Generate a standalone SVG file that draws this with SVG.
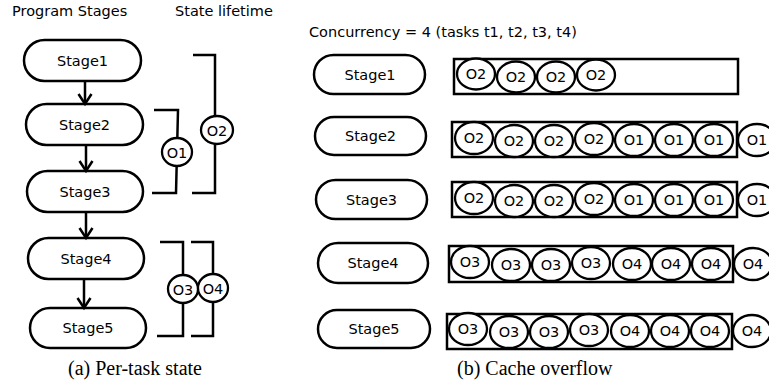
<svg xmlns="http://www.w3.org/2000/svg" width="769" height="389" viewBox="0 0 769 389">
  <style>
    .pill { fill: #fff; stroke: #000; stroke-width: 2.5; }
    .box { fill: none; stroke: #000; stroke-width: 2.5; }
    .obj { fill: #fff; stroke: #000; stroke-width: 2.3; }
    .brk { fill: none; stroke: #000; stroke-width: 2.5; }
    .edge { fill: none; stroke: #000; stroke-width: 2.5; }
    .lbl { font-family: "DejaVu Sans", sans-serif; font-size: 14.5px; fill: #000; }
    .mid { text-anchor: middle; }
    .cap { font-family: "Liberation Serif", "Times New Roman", serif; font-size: 20px; fill: #000; }
  </style>
  <defs>
    <marker id="vee" markerUnits="userSpaceOnUse" markerWidth="16" markerHeight="16" viewBox="0 0 16 16" refX="13" refY="8" orient="auto">
      <path d="M3,1.5 L13,8 L3,14.5" fill="none" stroke="#000" stroke-width="2.5"/>
    </marker>
  </defs>

  <rect width="769" height="389" fill="#fff"/>

  <!-- headings -->
  <text class="lbl" x="12" y="16">Program Stages</text>
  <text class="lbl" x="175" y="16">State lifetime</text>
  <text class="lbl" x="309" y="37">Concurrency = 4 (tasks t1, t2, t3, t4)</text>

  <!-- (a) program stages -->
  <g id="a-stage1"><rect class="pill" x="24" y="40" width="117" height="41" rx="20.5"/><text class="lbl mid" x="82.5" y="65.5">Stage1</text></g>
  <g id="a-stage2"><rect class="pill" x="26" y="104" width="117" height="41" rx="20.5"/><text class="lbl mid" x="84.5" y="129.5">Stage2</text></g>
  <g id="a-stage3"><rect class="pill" x="27" y="171" width="116" height="41" rx="20.5"/><text class="lbl mid" x="85" y="196.5">Stage3</text></g>
  <g id="a-stage4"><rect class="pill" x="28" y="238" width="116" height="41" rx="20.5"/><text class="lbl mid" x="86" y="263.5">Stage4</text></g>
  <g id="a-stage5"><rect class="pill" x="30" y="308" width="116" height="40" rx="20"/><text class="lbl mid" x="88" y="333">Stage5</text></g>

  <g id="a-edges">
    <line class="edge" x1="85" y1="81" x2="85" y2="104" marker-end="url(#vee)"/>
    <line class="edge" x1="86" y1="145" x2="86" y2="171" marker-end="url(#vee)"/>
    <line class="edge" x1="86" y1="212" x2="86" y2="238" marker-end="url(#vee)"/>
    <line class="edge" x1="84" y1="279" x2="84" y2="308" marker-end="url(#vee)"/>
  </g>

  <!-- (a) state lifetime brackets -->
  <g id="life-o1">
    <polyline class="brk" points="154,110 178,110 176,193 152,193"/>
    <ellipse class="obj" cx="177" cy="152" rx="15" ry="14"/>
    <text class="lbl mid" x="177" y="157.5">O1</text>
  </g>
  <g id="life-o2">
    <polyline class="brk" points="193,55 215,55 215,193 192,193"/>
    <ellipse class="obj" cx="217" cy="130" rx="16" ry="14"/>
    <text class="lbl mid" x="217" y="135.5">O2</text>
  </g>
  <g id="life-o3">
    <polyline class="brk" points="160,242 183,242 183,336 157,336"/>
    <ellipse class="obj" cx="183" cy="289" rx="15" ry="14"/>
    <text class="lbl mid" x="183" y="294.5">O3</text>
  </g>
  <g id="life-o4">
    <polyline class="brk" points="191,242 213,242 213,336 191,336"/>
    <ellipse class="obj" cx="213" cy="288" rx="15" ry="14"/>
    <text class="lbl mid" x="213" y="293.5">O4</text>
  </g>

  <text class="cap" x="68" y="375">(a) Per-task state</text>

  <!-- (b) cache rows -->
  <g id="b-stage1"><rect class="pill" x="314" y="55" width="111" height="39" rx="19.5"/><text class="lbl mid" x="370" y="79.5">Stage1</text></g>
  <g id="b-cache1">
    <rect class="box" x="454" y="59" width="284" height="35"/>
    <ellipse class="obj" cx="476" cy="74" rx="19" ry="15.5"/><text class="lbl mid" x="476" y="79">O2</text>
    <ellipse class="obj" cx="516" cy="77" rx="19" ry="15.5"/><text class="lbl mid" x="516" y="82">O2</text>
    <ellipse class="obj" cx="556" cy="77" rx="19" ry="15.5"/><text class="lbl mid" x="556" y="82">O2</text>
    <ellipse class="obj" cx="596" cy="75" rx="19" ry="15.5"/><text class="lbl mid" x="596" y="80">O2</text>
  </g>

  <g id="b-stage2"><rect class="pill" x="315" y="117" width="111" height="38" rx="19"/><text class="lbl mid" x="370.5" y="141">Stage2</text></g>
  <g id="b-cache2">
    <rect class="box" x="452" y="122" width="285" height="35"/>
    <ellipse class="obj" cx="474" cy="138" rx="19" ry="16"/><text class="lbl mid" x="474" y="143">O2</text>
    <ellipse class="obj" cx="514" cy="141" rx="19" ry="16"/><text class="lbl mid" x="514" y="146">O2</text>
    <ellipse class="obj" cx="554" cy="141" rx="19" ry="16"/><text class="lbl mid" x="554" y="146">O2</text>
    <ellipse class="obj" cx="594" cy="139" rx="19" ry="16"/><text class="lbl mid" x="594" y="144">O2</text>
    <ellipse class="obj" cx="634" cy="140" rx="19" ry="16"/><text class="lbl mid" x="634" y="145">O1</text>
    <ellipse class="obj" cx="674" cy="140" rx="19" ry="16"/><text class="lbl mid" x="674" y="145">O1</text>
    <ellipse class="obj" cx="714" cy="140" rx="19" ry="16"/><text class="lbl mid" x="714" y="145">O1</text>
    <ellipse class="obj" cx="757" cy="140" rx="19" ry="16"/><text class="lbl mid" x="757" y="145">O1</text>
  </g>

  <g id="b-stage3"><rect class="pill" x="316" y="180" width="111" height="39" rx="19.5"/><text class="lbl mid" x="371.5" y="204.5">Stage3</text></g>
  <g id="b-cache3">
    <rect class="box" x="452" y="182" width="285" height="35"/>
    <ellipse class="obj" cx="474" cy="198" rx="19" ry="16"/><text class="lbl mid" x="474" y="203">O2</text>
    <ellipse class="obj" cx="514" cy="201" rx="19" ry="16"/><text class="lbl mid" x="514" y="206">O2</text>
    <ellipse class="obj" cx="554" cy="201" rx="19" ry="16"/><text class="lbl mid" x="554" y="206">O2</text>
    <ellipse class="obj" cx="594" cy="199" rx="19" ry="16"/><text class="lbl mid" x="594" y="204">O2</text>
    <ellipse class="obj" cx="634" cy="200" rx="19" ry="16"/><text class="lbl mid" x="634" y="205">O1</text>
    <ellipse class="obj" cx="674" cy="200" rx="19" ry="16"/><text class="lbl mid" x="674" y="205">O1</text>
    <ellipse class="obj" cx="714" cy="200" rx="19" ry="16"/><text class="lbl mid" x="714" y="205">O1</text>
    <ellipse class="obj" cx="757" cy="200" rx="19" ry="16"/><text class="lbl mid" x="757" y="205">O1</text>
  </g>

  <g id="b-stage4"><rect class="pill" x="318" y="243" width="110" height="40" rx="20"/><text class="lbl mid" x="373" y="268">Stage4</text></g>
  <g id="b-cache4">
    <rect class="box" x="449" y="246" width="284" height="36"/>
    <ellipse class="obj" cx="470" cy="262" rx="19" ry="16"/><text class="lbl mid" x="470" y="267">O3</text>
    <ellipse class="obj" cx="511" cy="265" rx="19" ry="16"/><text class="lbl mid" x="511" y="270">O3</text>
    <ellipse class="obj" cx="551" cy="265" rx="19" ry="16"/><text class="lbl mid" x="551" y="270">O3</text>
    <ellipse class="obj" cx="591" cy="263" rx="19" ry="16"/><text class="lbl mid" x="591" y="268">O3</text>
    <ellipse class="obj" cx="632" cy="264" rx="19" ry="16"/><text class="lbl mid" x="632" y="269">O4</text>
    <ellipse class="obj" cx="671" cy="264" rx="19" ry="16"/><text class="lbl mid" x="671" y="269">O4</text>
    <ellipse class="obj" cx="711" cy="264" rx="19" ry="16"/><text class="lbl mid" x="711" y="269">O4</text>
    <ellipse class="obj" cx="753" cy="264" rx="19" ry="16"/><text class="lbl mid" x="753" y="269">O4</text>
  </g>

  <g id="b-stage5"><rect class="pill" x="318" y="310" width="112" height="38" rx="19"/><text class="lbl mid" x="374" y="334">Stage5</text></g>
  <g id="b-cache5">
    <rect class="box" x="447" y="314" width="285" height="35"/>
    <ellipse class="obj" cx="468" cy="329" rx="19" ry="16"/><text class="lbl mid" x="468" y="334">O3</text>
    <ellipse class="obj" cx="509" cy="332" rx="19" ry="16"/><text class="lbl mid" x="509" y="337">O3</text>
    <ellipse class="obj" cx="549" cy="332" rx="19" ry="16"/><text class="lbl mid" x="549" y="337">O3</text>
    <ellipse class="obj" cx="589" cy="330" rx="19" ry="16"/><text class="lbl mid" x="589" y="335">O3</text>
    <ellipse class="obj" cx="630" cy="331" rx="19" ry="16"/><text class="lbl mid" x="630" y="336">O4</text>
    <ellipse class="obj" cx="670" cy="331" rx="19" ry="16"/><text class="lbl mid" x="670" y="336">O4</text>
    <ellipse class="obj" cx="710" cy="331" rx="19" ry="16"/><text class="lbl mid" x="710" y="336">O4</text>
    <ellipse class="obj" cx="752" cy="331" rx="19" ry="16"/><text class="lbl mid" x="752" y="336">O4</text>
  </g>

  <text class="cap" x="457" y="375">(b) Cache overflow</text>
</svg>
